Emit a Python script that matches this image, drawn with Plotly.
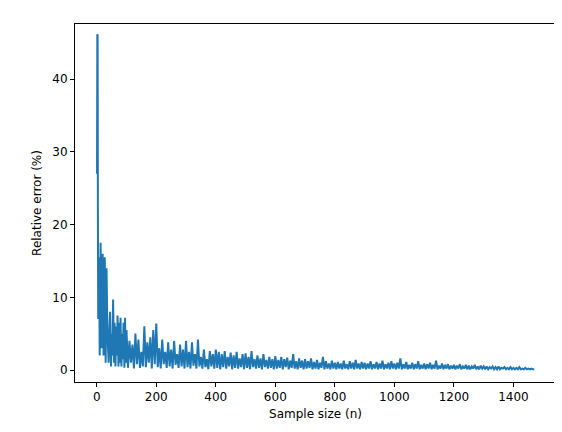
import plotly.graph_objects as go

# Sample sizes and relative errors (first 110 samples)
n_early = [1, 2, 3, 4, 5, 6, 8, 10, 13, 16, 18, 20, 23, 25, 27, 30, 33, 36, 40, 43, 45, 48, 50,
           53, 55, 58, 60, 63, 65, 68, 70, 73, 75, 78, 80, 83, 85, 88, 90, 93, 95, 98, 100]
err_early = [27.0, 46.2, 46.0, 20.0, 7.0, 12.0, 15.5, 2.0, 17.5, 3.0, 9.0, 16.0, 2.0, 8.0, 15.5, 1.0,
             14.0, 5.0, 1.0, 6.0, 8.0, 0.5, 5.0, 2.0, 9.7, 1.0, 6.5, 0.5, 6.0, 2.0, 7.5, 0.5, 6.5,
             1.0, 7.2, 0.5, 5.0, 1.5, 6.5, 0.3, 7.2, 1.0, 5.5]

# Every 5 samples from 105 to 1470
n_late = list(range(105, 1471, 5))
err_late = [
    # 105-200
    0.3, 4.0, 1.0, 3.5, 0.2, 5.0, 0.8, 4.2, 0.3, 2.5, 0.5, 6.0, 0.4, 3.8, 1.0, 4.5, 0.2, 5.5, 0.8, 6.4,
    # 205-300
    0.4, 3.0, 0.2, 4.2, 0.8, 2.5, 0.3, 3.8, 0.5, 2.8, 0.2, 4.0, 0.7, 2.2, 0.3, 3.5, 0.5, 2.8, 0.2, 4.0,
    # 305-400
    0.4, 2.5, 0.2, 3.8, 0.6, 2.2, 0.2, 4.2, 0.5, 1.8, 0.2, 2.8, 0.4, 1.5, 0.1, 2.6, 0.5, 2.2, 0.2, 2.8,
    # 405-500
    0.3, 2.5, 0.1, 2.2, 0.4, 2.6, 0.2, 1.8, 0.5, 2.4, 0.1, 2.0, 0.3, 2.5, 0.2, 1.6, 0.4, 2.2, 0.1, 2.3,
    # 505-600
    0.3, 1.8, 0.1, 2.6, 0.4, 1.5, 0.2, 2.0, 0.3, 1.6, 0.1, 2.2, 0.4, 1.4, 0.2, 1.8, 0.3, 1.5, 0.1, 1.9,
    # 605-700
    0.2, 1.4, 0.3, 1.8, 0.1, 1.5, 0.4, 1.7, 0.1, 1.3, 0.3, 2.2, 0.2, 1.2, 0.1, 1.6, 0.3, 1.3, 0.1, 1.5,
    # 705-800
    0.2, 1.2, 0.3, 1.6, 0.1, 1.1, 0.2, 1.4, 0.1, 1.0, 0.3, 1.8, 0.1, 1.2, 0.2, 0.9, 0.1, 1.3, 0.2, 1.0,
    # 805-900
    0.1, 1.1, 0.2, 0.9, 0.1, 1.3, 0.2, 0.8, 0.1, 1.2, 0.2, 1.0, 0.1, 1.4, 0.2, 0.9, 0.1, 1.1, 0.2, 1.0,
    # 905-1000
    0.1, 0.9, 0.2, 1.2, 0.1, 0.8, 0.2, 1.1, 0.1, 0.9, 0.2, 1.3, 0.1, 0.8, 0.2, 1.0, 0.1, 1.2, 0.2, 0.9,
    # 1005-1100
    0.1, 1.0, 0.2, 1.6, 0.1, 0.8, 0.2, 1.1, 0.1, 0.7, 0.2, 1.0, 0.1, 0.8, 0.2, 1.2, 0.1, 0.7, 0.2, 0.9,
    # 1105-1200
    0.1, 0.8, 0.2, 1.0, 0.1, 0.7, 0.2, 1.3, 0.1, 0.6, 0.2, 0.9, 0.1, 0.7, 0.2, 0.8, 0.1, 0.6, 0.2, 0.7,
    # 1205-1300
    0.1, 0.6, 0.2, 0.8, 0.1, 0.5, 0.2, 0.7, 0.1, 0.6, 0.1, 0.5, 0.2, 0.7, 0.1, 0.5, 0.1, 0.6, 0.2, 0.5,
    # 1305-1400
    0.1, 0.5, 0.1, 0.4, 0.2, 0.5, 0.1, 0.4, 0.1, 0.5, 0.1, 0.3, 0.2, 0.4, 0.1, 0.3, 0.1, 0.4, 0.1, 0.3,
    # 1405-1470
    0.1, 0.3, 0.1, 0.4, 0.1, 0.2, 0.1, 0.3, 0.1, 0.2, 0.1, 0.2, 0.1, 0.1,
]

n = n_early + n_late
err = err_early + err_late

fig = go.Figure(go.Scatter(x=n, y=err, mode="lines", line=dict(color="#1f77b4", width=2)))

axis = dict(showgrid=False, zeroline=False, showline=True, linecolor="black", mirror=True,
            ticks="outside", ticklen=4, tickcolor="black", tickfont=dict(size=12, color="black"),
            automargin=False)
fig.update_xaxes(axis, range=[-73, 1543], dtick=200,
                 title=dict(text="Sample size (n)", font=dict(size=12), standoff=6))
fig.update_yaxes(axis, range=[-1.65, 47.6], dtick=10,
                 title=dict(text="Relative error (%)", font=dict(size=12), standoff=8))

fig.update_layout(width=562, height=432, plot_bgcolor="white", paper_bgcolor="white",
                  font=dict(family="DejaVu Sans", color="black"), showlegend=False,
                  margin=dict(l=67, r=14, t=16, b=58))

fig.write_html("out.html")
